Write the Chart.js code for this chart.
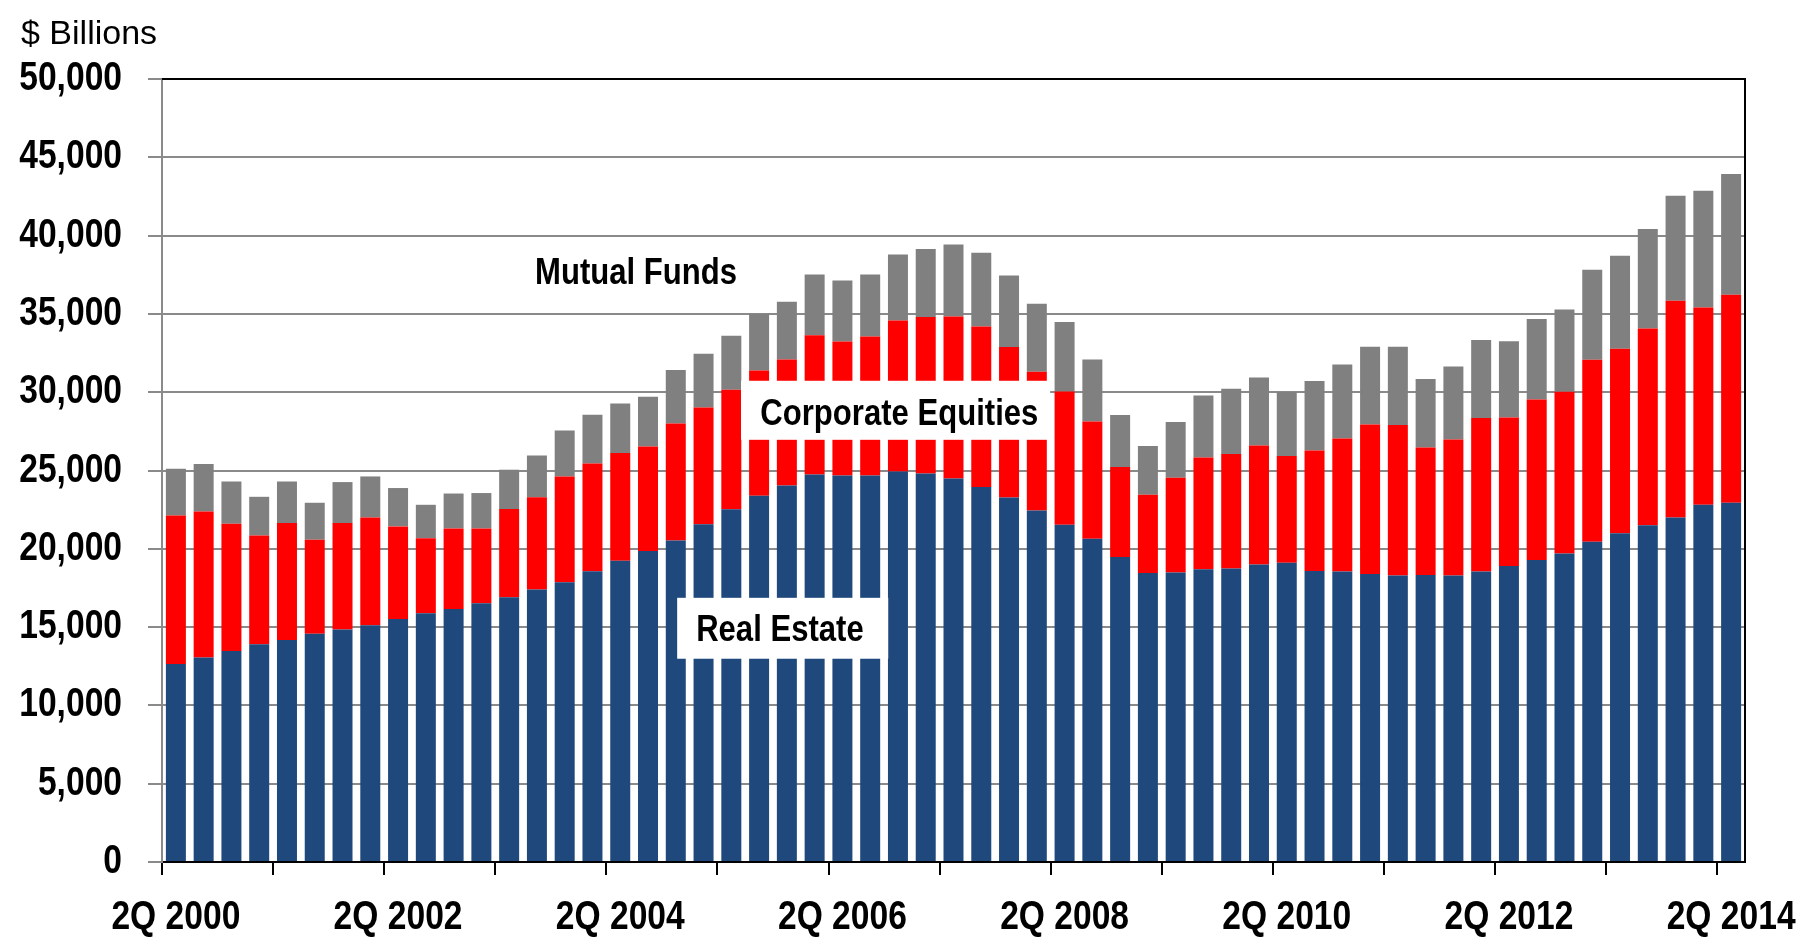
<!DOCTYPE html>
<html>
<head>
<meta charset="utf-8">
<script src="https://cdn.jsdelivr.net/npm/chart.js@4/dist/chart.umd.min.js"></script>
<style>
html,body{margin:0;padding:0;background:#fff;}
#wrap{width:1806px;height:937px;position:relative;}
</style>
</head>
<body>
<div id="wrap"><canvas id="c"></canvas></div>
<script>
const quarters = [
 "2Q 2000","3Q 2000","4Q 2000","1Q 2001","2Q 2001","3Q 2001","4Q 2001","1Q 2002",
 "2Q 2002","3Q 2002","4Q 2002","1Q 2003","2Q 2003","3Q 2003","4Q 2003","1Q 2004",
 "2Q 2004","3Q 2004","4Q 2004","1Q 2005","2Q 2005","3Q 2005","4Q 2005","1Q 2006",
 "2Q 2006","3Q 2006","4Q 2006","1Q 2007","2Q 2007","3Q 2007","4Q 2007","1Q 2008",
 "2Q 2008","3Q 2008","4Q 2008","1Q 2009","2Q 2009","3Q 2009","4Q 2009","1Q 2010",
 "2Q 2010","3Q 2010","4Q 2010","1Q 2011","2Q 2011","3Q 2011","4Q 2011","1Q 2012",
 "2Q 2012","3Q 2012","4Q 2012","1Q 2013","2Q 2013","3Q 2013","4Q 2013","1Q 2014",
 "2Q 2014"
];
const realEstate = [
 12650,13060,13470,13910,14170,14570,14850,15120,
 15510,15880,16150,16530,16900,17400,17860,18560,
 19240,19860,20530,21560,22530,23380,24040,24750,
 24680,24680,24940,24810,24490,23940,23280,22450,
 21530,20640,19470,18450,18490,18700,18740,19000,
 19110,18580,18550,18390,18300,18320,18300,18550,
 18900,19280,19700,20450,21000,21510,22000,22810,
 22940
];
const equities = [
 9480,9320,8130,6940,7470,6010,6790,6880,
 5920,4800,5150,4770,5640,5890,6760,6890,
 6870,6680,7470,7460,7620,8010,8050,8880,
 8560,8880,9640,9990,10350,10260,9600,8850,
 8520,7490,5750,5000,6050,7130,7310,7600,
 6810,7700,8500,9550,9600,8150,8680,9800,
 9490,10260,10330,11620,11770,12560,13840,12600,
 13280
];
const mutualFunds = [
 2980,3030,2700,2470,2660,2360,2620,2620,
 2450,2130,2230,2260,2510,2670,2940,3110,
 3170,3170,3410,3430,3450,3620,3690,3890,
 3900,3960,4220,4340,4590,4700,4570,4350,
 4430,3960,3320,3110,3550,3960,4170,4340,
 4090,4430,4720,4960,5000,4370,4660,4980,
 4870,5130,5250,5750,5940,6350,6700,7450,
 7710
];
const yMin = 0, yMax = 50000, yStep = 5000;
const yTitle = "$ Billions";
const seriesNames = ["Real Estate", "Corporate Equities", "Mutual Funds"];
const seriesColors = ["#1F497D", "#FF0000", "#808080"];
// annotation labels placed in data units (category index, value)
const annoText = ["Mutual Funds", "Corporate Equities", "Real Estate"];
const annoX = [16.57, 26.05, 21.75];
const annoY = [37560, 28540, 14760];
const annoBox = [null, [20.35, 31.48, 30730, 26960], [18.05, 25.65, 16870, 12980]];

const FONT = '"Liberation Sans", Arial, sans-serif';

// Narrow look (like Arial Narrow): compress text horizontally when drawing.
(function () {
  const proto = CanvasRenderingContext2D.prototype;
  const orig = proto.fillText;
  proto.fillText = function (t, x, y, mw) {
    const f = (this.__cond === undefined) ? 0.84 : this.__cond;
    const w = this.measureText(t).width * f;
    return orig.call(this, t, x, y, mw === undefined ? w : Math.min(mw, w));
  };
})();

const annoPlugin = {
  id: 'anno',
  afterDatasetsDraw(chart) {
    const ctx = chart.ctx, xs = chart.scales.x, ys = chart.scales.y;
    ctx.save();
    for (let i = 0; i < annoText.length; i++) {
      const b = annoBox[i];
      if (b) {
        const x0 = xs.getPixelForValue(b[0]), x1 = xs.getPixelForValue(b[1]);
        const y0 = ys.getPixelForValue(b[2]), y1 = ys.getPixelForValue(b[3]);
        ctx.fillStyle = '#ffffff';
        ctx.fillRect(x0, y0, x1 - x0, y1 - y0);
      }
      ctx.fillStyle = '#000';
      ctx.font = 'bold 37px ' + FONT;
      ctx.textAlign = 'center';
      ctx.textBaseline = 'middle';
      ctx.fillText(annoText[i], xs.getPixelForValue(annoX[i]), ys.getPixelForValue(annoY[i]));
    }
    const a = chart.chartArea;
    ctx.strokeStyle = '#000';
    ctx.lineWidth = 2;
    ctx.beginPath();
    ctx.moveTo(a.left, a.top); ctx.lineTo(a.right, a.top); ctx.lineTo(a.right, a.bottom);
    ctx.stroke();
    ctx.restore();
  },
  afterDraw(chart) {
    const ctx = chart.ctx;
    ctx.save();
    ctx.__cond = 1.0;
    ctx.fillStyle = '#000';
    ctx.font = '34px ' + FONT;
    ctx.textAlign = 'left';
    ctx.textBaseline = 'alphabetic';
    ctx.fillText(yTitle, 21, 44);
    ctx.__cond = undefined;
    ctx.restore();
  }
};

new Chart(document.getElementById('c'), {
  type: 'bar',
  data: {
    labels: quarters,
    datasets: [
      { label: seriesNames[0], data: realEstate, backgroundColor: seriesColors[0] },
      { label: seriesNames[1], data: equities, backgroundColor: seriesColors[1] },
      { label: seriesNames[2], data: mutualFunds, backgroundColor: seriesColors[2] }
    ]
  },
  options: {
    responsive: true,
    maintainAspectRatio: false,
    devicePixelRatio: 1,
    animation: false,
    layout: { padding: { top: 79, right: 61, left: 0, bottom: 0 } },
    datasets: { bar: { barPercentage: 0.72, categoryPercentage: 1.0, borderWidth: 0 } },
    plugins: { legend: { display: false }, tooltip: { enabled: false }, title: { display: false } },
    scales: {
      x: {
        stacked: true,
        offset: true,
        afterFit(scale) { scale.height = 75; scale.paddingLeft = 0; scale.paddingRight = 0; },
        grid: {
          offset: true,
          drawOnChartArea: false,
          drawTicks: true,
          tickLength: 13,
          lineWidth: 2,
          color(ctx) { return (ctx.index % 4 === 0) ? '#000' : 'rgba(0,0,0,0)'; }
        },
        border: { display: true, color: '#000', width: 2 },
        ticks: {
          autoSkip: false,
          maxRotation: 0,
          minRotation: 0,
          padding: 19,
          color: '#000',
          font: { family: FONT, size: 40, weight: 'bold' },
          callback(v, i) { return (i % 8 === 0) ? quarters[i] : ''; }
        }
      },
      y: {
        stacked: true,
        min: yMin, max: yMax,
        afterFit(scale) { scale.width = 162; scale.paddingTop = 0; scale.paddingBottom = 0; },
        grid: { color: '#8a8a8a', lineWidth: 2, tickLength: 14 },
        border: { display: true, color: '#8a8a8a', width: 2 },
        ticks: {
          stepSize: yStep,
          padding: 26,
          color: '#000',
          font: { family: FONT, size: 40, weight: 'bold' },
          callback(v) { return v.toLocaleString('en-US'); }
        }
      }
    }
  },
  plugins: [annoPlugin]
});
</script>
</body>
</html>
